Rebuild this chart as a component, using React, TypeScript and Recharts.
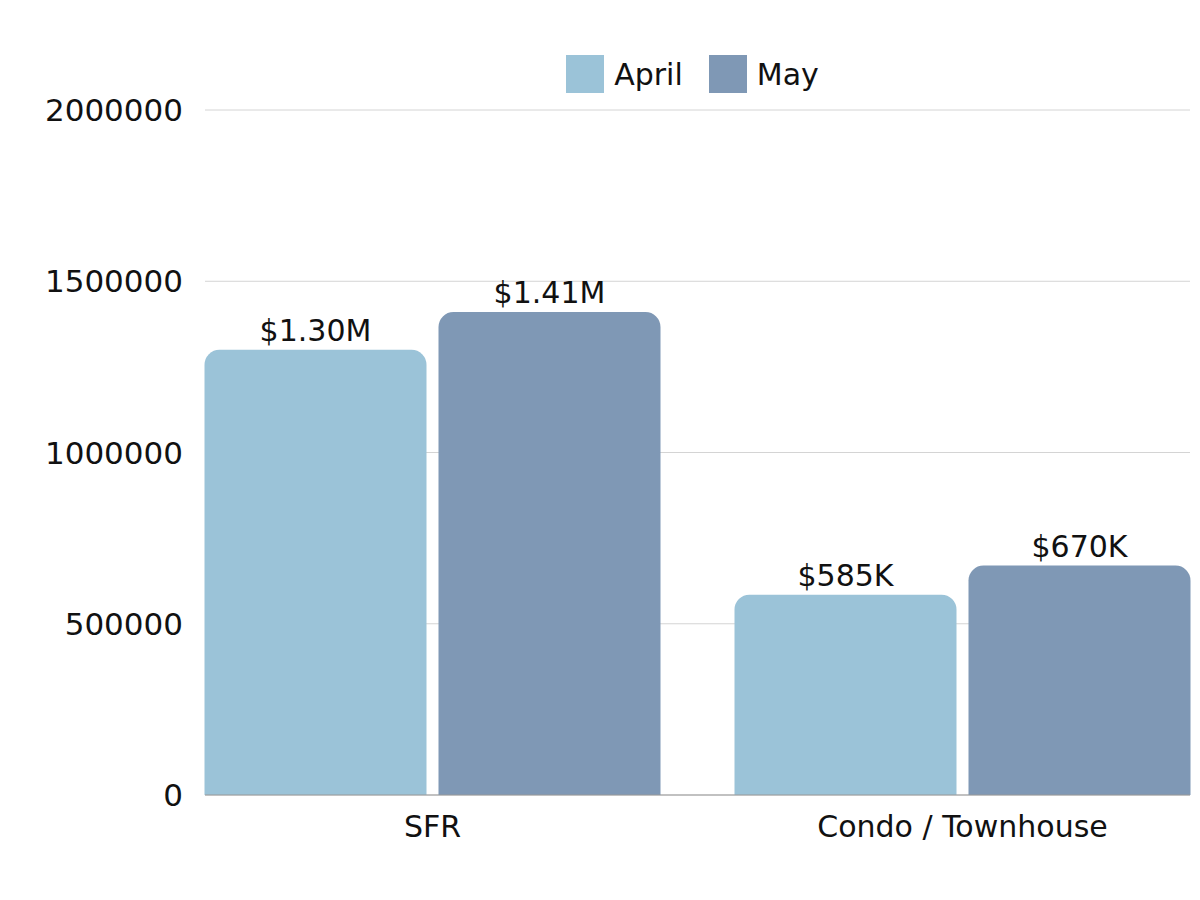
import React from "react"
import { Bar, BarChart, XAxis, YAxis, CartesianGrid, Legend, LabelList } from "recharts"

const categories = ["SFR", "Condo / Townhouse"]
const april = [1300000, 585000]
const may = [1410000, 670000]
const yTicks = [0, 500000, 1000000, 1500000, 2000000]

const data = categories.map((name, i) => ({ name, april: april[i], may: may[i] }))

const FONT = "'DejaVu Sans', sans-serif"
const APRIL = "#9bc3d8"
const MAY = "#7f98b5"

const fmt = (v: any) => {
  const n = Number(v)
  if (n >= 1000000) return "$" + (n / 1000000).toFixed(2) + "M"
  return "$" + Math.round(n / 1000) + "K"
}

function LegendContent() {
  const items = [
    { label: "April", color: APRIL },
    { label: "May", color: MAY },
  ]
  return (
    <div style={{ display: "flex", justifyContent: "center", alignItems: "center", gap: 26, fontFamily: FONT, fontSize: 30, height: 38 }}>
      {items.map((it) => (
        <div key={it.label} style={{ display: "flex", alignItems: "center" }}>
          <span style={{ width: 38, height: 38, background: it.color, display: "inline-block", marginRight: 10 }} />
          <span style={{ color: "#111" }}>{it.label}</span>
        </div>
      ))}
    </div>
  )
}

export default function App() {
  return (
    <div style={{ width: 1200, height: 900, background: "#fff" }}>
      <style>{`body{margin:0}`}</style>
      <BarChart
        width={1200}
        height={900}
        data={data}
        margin={{ top: 72, right: 10, left: 0, bottom: 0 }}
        barGap={12}
        barSize={222}
        style={{ fontFamily: FONT }}
      >
        <CartesianGrid vertical={false} stroke="#d4d4d4" />
        <XAxis
          dataKey="name"
          padding={{ left: -37.5, right: -37.5 }}
          tickLine={false}
          tickSize={0}
          tickMargin={21}
          axisLine={{ stroke: "#999" }}
          tick={{ fill: "#111", fontSize: 30, fontFamily: FONT }}
          height={105}
        />
        <YAxis
          width={205}
          domain={[0, 2000000]}
          ticks={yTicks}
          axisLine={false}
          tickLine={false}
          tickSize={0}
          tickMargin={22}
          tick={{ fill: "#111", fontSize: 31, fontFamily: FONT }}
        />
        <Legend
          verticalAlign="top"
          wrapperStyle={{ top: 55, left: 200, width: 985, height: 38 }}
          content={<LegendContent />}
        />
        <Bar dataKey="april" name="April" fill={APRIL} radius={[15, 15, 0, 0]} isAnimationActive={false}>
          <LabelList dataKey="april" position="top" offset={9} formatter={fmt} fill="#111" fontSize={30} fontFamily={FONT} />
        </Bar>
        <Bar dataKey="may" name="May" fill={MAY} radius={[15, 15, 0, 0]} isAnimationActive={false}>
          <LabelList dataKey="may" position="top" offset={9} formatter={fmt} fill="#111" fontSize={30} fontFamily={FONT} />
        </Bar>
      </BarChart>
    </div>
  )
}
